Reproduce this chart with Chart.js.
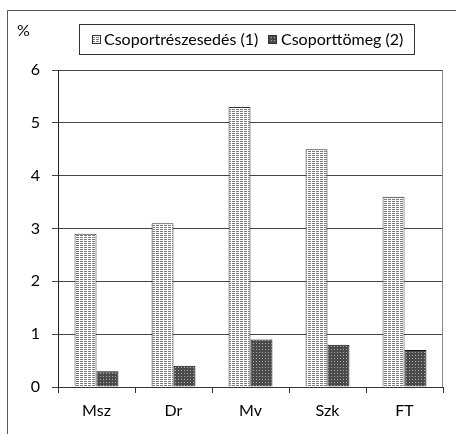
<!DOCTYPE html>
<html>
<head>
<meta charset="utf-8">
<script src="https://cdn.jsdelivr.net/npm/chart.js@4.4.0/dist/chart.umd.min.js"></script>
<style>
  html,body{margin:0;padding:0;background:#fff;}
  #wrap{width:456px;height:434px;position:relative;}
</style>
</head>
<body>
<div id="wrap"><canvas id="c" width="456" height="434"></canvas></div>
<script>
// data
const categories = ["Msz", "Dr", "Mv", "Szk", "FT"];
const share = [2.9, 3.1, 5.3, 4.5, 3.6];   // Csoportrészesedés (1)
const mass  = [0.3, 0.4, 0.9, 0.8, 0.7];   // Csoporttömeg (2)
const seriesNames = ["Csoportrészesedés (1)", "Csoporttömeg (2)"];
const yTicks = [0, 1, 2, 3, 4, 5, 6];

const FONT = "Lato, 'Open Sans', sans-serif";

function makePattern(w, h, draw){
  const c = document.createElement("canvas");
  c.width = w; c.height = h;
  const x = c.getContext("2d");
  draw(x);
  return x.createPattern(c, "repeat");
}
// light: horizontal dashed rows
const lightPat = makePattern(4, 2, x=>{
  x.fillStyle = "#fff"; x.fillRect(0,0,4,2);
  x.fillStyle = "#7a7a7a"; x.fillRect(0,1,3,1);
});
// dark: dark gray with light dots
const darkPat = makePattern(3, 3, x=>{
  x.fillStyle = "#4a4a4a"; x.fillRect(0,0,3,3);
  x.fillStyle = "#b0b0b0"; x.fillRect(1,1,1,1);
});

const frame = {
  id: "frame",
  afterDraw(chart){
    const ctx = chart.ctx, a = chart.chartArea;
    ctx.save();
    // outer frame (cut off right and bottom)
    ctx.strokeStyle = "#555"; ctx.lineWidth = 1;
    ctx.beginPath();
    ctx.moveTo(7.5, 440); ctx.lineTo(7.5, 10.5); ctx.lineTo(460, 10.5);
    ctx.stroke();
    // plot area right border
    ctx.strokeStyle = "#888";
    ctx.beginPath();
    ctx.moveTo(Math.round(a.right)-0.5, a.top); ctx.lineTo(Math.round(a.right)-0.5, a.bottom);
    ctx.stroke();
    // % label
    ctx.fillStyle = "#000";
    ctx.font = "16px " + FONT;
    ctx.textBaseline = "middle"; ctx.textAlign = "left";
    ctx.fillText("%", 17, 31);
    // legend box
    ctx.strokeStyle = "#333";
    ctx.strokeRect(79.5, 24.5, 335, 30);
    const items = [[92, 104, lightPat], [268, 281, darkPat]];
    items.forEach((it, i)=>{
      ctx.fillStyle = it[2];
      ctx.fillRect(it[0], 35, 9, 9);
      ctx.strokeStyle = "#333";
      ctx.strokeRect(it[0]+0.5, 35.5, 8, 8);
      ctx.fillStyle = "#000";
      ctx.fillText(seriesNames[i], it[1], 40);
    });
    ctx.restore();
  }
};

new Chart(document.getElementById("c"), {
  type: "bar",
  data: {
    labels: categories,
    datasets: [
      { label: seriesNames[0], data: share, backgroundColor: lightPat, borderColor: "#333", borderWidth: 1,
        categoryPercentage: 0.57, barPercentage: 1 },
      { label: seriesNames[1], data: mass, backgroundColor: darkPat, borderColor: "#111", borderWidth: 1,
        categoryPercentage: 0.57, barPercentage: 1 }
    ]
  },
  options: {
    responsive: false,
    animation: false,
    devicePixelRatio: 1,
    layout: { padding: { top: 70, right: 13, left: 0, bottom: 0 } },
    plugins: { legend: { display: false }, tooltip: { enabled: false } },
    scales: {
      x: {
        grid: { offset: true, drawOnChartArea: false, drawTicks: true, tickLength: 6, color: "#333" },
        border: { color: "#333" },
        ticks: { color: "#000", font: { family: FONT, size: 16 }, padding: 8 },
        afterFit(s){ s.height = 47; }
      },
      y: {
        min: 0, max: 6,
        afterBuildTicks(s){ s.ticks = yTicks.map(v=>({ value: v })); },
        grid: { color: "#444", tickLength: 6 },
        border: { color: "#222" },
        ticks: { color: "#000", font: { family: FONT, size: 16 }, padding: 12 },
        afterFit(s){ s.width = 58; }
      }
    }
  },
  plugins: [frame]
});
</script>
</body>
</html>
